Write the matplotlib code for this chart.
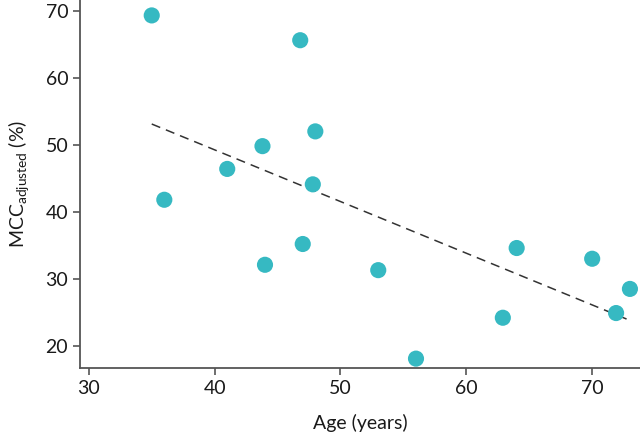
import matplotlib.pyplot as plt

# ages and MCC adjusted values
age = [35, 36, 41, 43.8, 44, 46.8, 47, 47.8, 48, 53, 56, 62.9, 64, 70, 71.9, 73]
mcc = [69.3, 41.8, 46.4, 49.8, 32.1, 65.6, 35.2, 44.1, 52.0, 31.3, 18.1, 24.2, 34.6, 33.0, 24.9, 28.5]

# regression line end points
fit_x = [35, 73]
fit_y = [53.1, 23.8]

plt.rcParams['font.family'] = ['Lato', 'DejaVu Sans']

fig = plt.figure(figsize=(6.4, 4.41), dpi=100)
ax = fig.add_axes([0.125, 0.1655, 0.875, 0.8345])

ax.scatter(age, mcc, s=135, color='#36b9c2', edgecolors='none', zorder=3)
ax.plot(fit_x, fit_y, color='#333333', linestyle=(0, (6, 4)), linewidth=1.1, zorder=2)

ax.set_xlim(29.3, 73.8)
ax.set_ylim(16.7, 71.6)
ax.set_xticks([30, 40, 50, 60, 70])
ax.set_yticks([20, 30, 40, 50, 60, 70])

for side in ['top', 'right']:
    ax.spines[side].set_visible(False)
for side in ['left', 'bottom']:
    ax.spines[side].set_color('#555555')
    ax.spines[side].set_linewidth(1.3)

ax.tick_params(axis='both', colors='#555555', labelcolor='#1a1a1a', labelsize=14, length=5, width=1.2)
ax.set_xlabel('Age (years)', fontsize=14, color='#1a1a1a', labelpad=12)
ax.set_ylabel('MCC$_{\\mathregular{adjusted}}$ (%)', fontsize=14, color='#1a1a1a', labelpad=10)

fig.savefig('out.png', dpi=100)
